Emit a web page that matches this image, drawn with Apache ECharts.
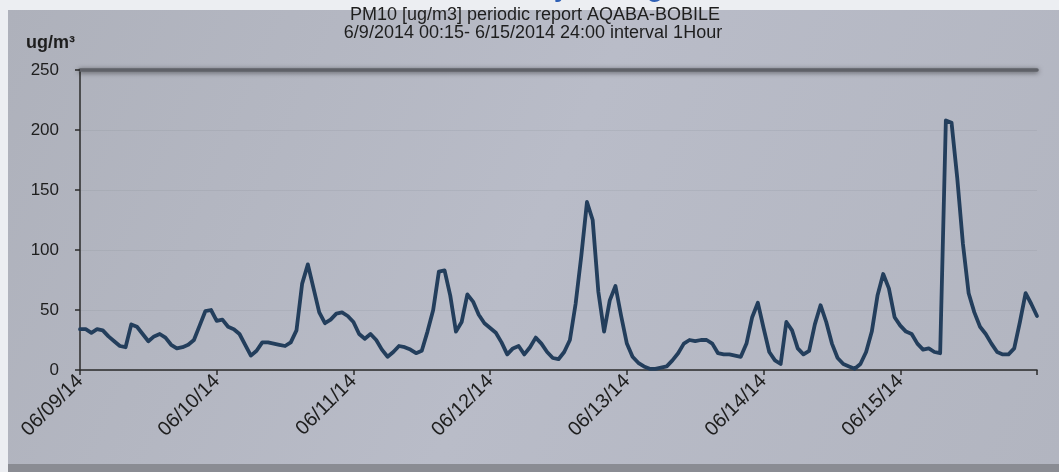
<!DOCTYPE html>
<html>
<head>
<meta charset="utf-8">
<script src="https://cdn.jsdelivr.net/npm/echarts@6/dist/echarts.min.js"></script>
<style>
html,body{margin:0;padding:0;background:#eef0f4;}
#chart{width:1059px;height:472px;}
</style>
</head>
<body>
<div id="chart"></div>
<script>
// Tick labels (one per day, x axis in hours since 6/9/2014 00:00)
const dayLabels = ['06/09/14','06/10/14','06/11/14','06/12/14','06/13/14','06/14/14','06/15/14'];
const yTicks = [0, 50, 100, 150, 200, 250];

// Hourly PM10 values [ug/m3], one array per day
const pm10_0609 = [34,34,31,34,33,28,24,20,19,38,36,30,24,28,30,27,21,18,19,21,25,37,49,50];
const pm10_0610 = [41,42,36,34,30,21,12,16,23,23,22,21,20,23,33,72,88,68,48,39,42,47,48,45];
const pm10_0611 = [40,30,26,30,25,17,11,15,20,19,17,14,16,32,50,82,83,62,32,40,63,57,46,39];
const pm10_0612 = [35,31,23,13,18,20,13,19,27,22,15,10,9,15,25,55,95,140,125,65,32,58,70,45];
const pm10_0613 = [22,11,6,3,1,1,2,3,8,14,22,25,24,25,25,22,14,13,13,12,11,22,44,56];
const pm10_0614 = [35,15,8,5,40,33,18,13,16,38,54,40,22,10,5,3,1,5,15,32,62,80,68,44];
const pm10_0615 = [37,32,30,22,17,18,15,14,208,206,160,105,64,48,36,30,22,15,13,13,18,40,64,55,45];

const titleLine1 = 'PM10 [ug/m3] periodic report AQABA-BOBILE';
const titleLine2 = '6/9/2014 00:15- 6/15/2014 24:00 interval 1Hour';
const unitLabel = 'ug/m³';
const heading = 'Hourly Average';

const values = [].concat(pm10_0609, pm10_0610, pm10_0611, pm10_0612, pm10_0613, pm10_0614, pm10_0615);
const seriesData = values.map((v, i) => [i, v]);

const FONT = '"Liberation Sans", Arial, sans-serif';
const chart = echarts.init(document.getElementById('chart'), null, {renderer: 'canvas'});

chart.setOption({
  animation: false,
  backgroundColor: 'transparent',
  graphic: [
    {type: 'rect', z: -10, silent: true, shape: {x: 0, y: 0, width: 1059, height: 472}, style: {fill: '#eceef2'}},
    {type: 'text', z: -9.5, silent: true, x: 486, y: 3,
      style: {text: heading, fill: '#2e5fb5', font: 'bold 26px ' + FONT, verticalAlign: 'bottom', align: 'left'}},
    {type: 'rect', z: -9, silent: true, shape: {x: 8, y: 10, width: 1051, height: 456},
      style: {fill: new echarts.graphic.LinearGradient(0, 0, 1, 1, [
        {offset: 0, color: '#aeb1bb'}, {offset: 0.5, color: '#b9bcc8'}, {offset: 1, color: '#b2b5c0'}])}},
    {type: 'rect', z: -8, silent: true, shape: {x: 8, y: 464, width: 1051, height: 8}, style: {fill: '#8a8c93'}}
  ],
  title: [
    {text: titleLine1, left: 530, top: 1, textAlign: 'center',
      textStyle: {fontFamily: FONT, fontSize: 18, fontWeight: 'normal', color: '#1e1e1e'}},
    {text: titleLine2, left: 528, top: 19, textAlign: 'center',
      textStyle: {fontFamily: FONT, fontSize: 18, fontWeight: 'normal', color: '#1e1e1e'}},
    {text: unitLabel, left: 21, top: 29,
      textStyle: {fontFamily: FONT, fontSize: 18, fontWeight: 'bold', color: '#1e1e1e'}}
  ],
  grid: {left: 80, right: 22, top: 70, bottom: 102, containLabel: false},
  xAxis: [
    {
      type: 'value', min: 0, max: 168, interval: 24, position: 'bottom',
      axisLine: {show: true, lineStyle: {color: '#2b2b2b', width: 1.5}},
      axisTick: {show: true, length: 5, lineStyle: {color: '#2b2b2b', width: 1.5}},
      splitLine: {show: false},
      axisLabel: {
        rotate: 45, margin: 8, fontFamily: FONT, fontSize: 20, color: '#1e1e1e',
        showMaxLabel: true,
        formatter: v => (v / 24 < dayLabels.length ? dayLabels[v / 24] : '')
      }
    },
    {
      type: 'value', min: 0, max: 168, position: 'top',
      axisLine: {show: true, lineStyle: {color: '#5f6168', width: 3.5, shadowColor: 'rgba(0,0,0,0.55)', shadowBlur: 5, shadowOffsetY: 1}},
      axisTick: {show: false}, axisLabel: {show: false}, splitLine: {show: false}
    }
  ],
  yAxis: {
    type: 'value', min: yTicks[0], max: yTicks[yTicks.length - 1], interval: 50,
    axisLine: {show: true, lineStyle: {color: '#2b2b2b', width: 1.5}},
    axisTick: {show: true, length: 5, lineStyle: {color: '#2b2b2b', width: 1.5}},
    splitLine: {show: true, lineStyle: {color: 'rgba(110,112,125,0.12)', width: 1}},
    axisLabel: {margin: 21, fontFamily: FONT, fontSize: 17, color: '#1e1e1e'}
  },
  series: [{
    type: 'line', xAxisIndex: 0, data: seriesData, showSymbol: false, smooth: false,
    lineStyle: {color: '#233e5c', width: 3.8, join: 'round', cap: 'round'}
  }]
});
</script>
</body>
</html>
